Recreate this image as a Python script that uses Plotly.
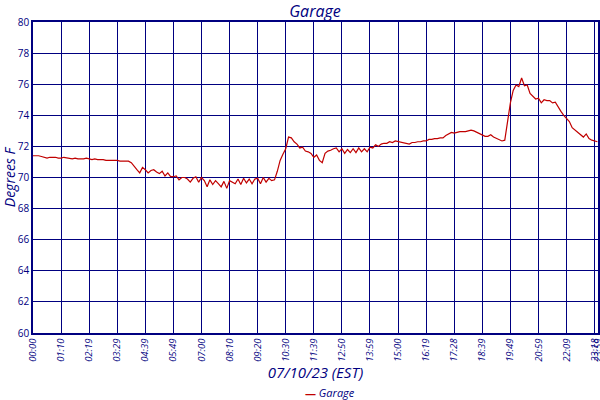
import plotly.graph_objects as go

# Garage temperature readings (deg F), one per logged sample
temps = [
    71.4, 71.4, 71.4, 71.35, 71.3, 71.25, 71.3, 71.3, 71.3, 71.25,
    71.25, 71.3, 71.25, 71.25, 71.2, 71.25, 71.2, 71.2, 71.2, 71.25,
    71.2, 71.15, 71.2, 71.15, 71.15, 71.15, 71.1, 71.1, 71.1, 71.1,
    71.1, 71.05, 71.05, 71.05, 71.05, 70.95, 70.7, 70.5, 70.3, 70.65,
    70.5, 70.3, 70.45, 70.5, 70.35, 70.25, 70.4, 70.1, 70.3, 70.05,
    70.05, 70.1, 69.85, 70.0, 70.0, 69.9, 69.7, 69.95, 70.05, 69.7,
    70.0, 69.8, 69.4, 69.85, 69.55, 69.8, 69.6, 69.4, 69.75, 69.3,
    69.8, 69.7, 69.6, 69.9, 69.55, 69.95, 69.65, 69.9, 69.6, 69.9,
    69.95, 69.6, 70.0, 69.7, 69.95, 69.8, 69.85, 70.4, 71.1, 71.5,
    71.85, 72.6, 72.55, 72.3, 72.15, 71.9, 71.95, 71.7, 71.65, 71.55,
    71.3, 71.45, 71.1, 70.95, 71.55, 71.7, 71.75, 71.85, 71.9, 71.65,
    71.85, 71.55, 71.8, 71.6, 71.85, 71.6, 71.9, 71.65, 71.85, 71.65,
    71.95, 71.9, 72.1, 72.0, 72.15, 72.2, 72.2, 72.3, 72.25, 72.35,
    72.3, 72.25, 72.2, 72.15, 72.15, 72.25, 72.25, 72.3, 72.3, 72.35,
    72.35, 72.45, 72.45, 72.5, 72.5, 72.55, 72.55, 72.7, 72.8, 72.9,
    72.85, 72.9, 72.95, 72.95, 72.95, 73.0, 73.05, 73.0, 72.9, 72.85,
    72.7, 72.65, 72.65, 72.75, 72.6, 72.5, 72.45, 72.35, 72.4, 73.7,
    74.8, 75.6, 75.95, 75.85, 76.4, 75.9, 75.95, 75.4, 75.2, 75.05,
    75.1, 74.8, 75.0, 74.95, 74.95, 74.8, 74.85, 74.5, 74.25, 74.0,
    73.8, 73.6, 73.2, 73.05, 72.9, 72.7, 72.6, 72.8, 72.5, 72.4,
    72.35, 72.3,
]
samples = list(range(len(temps)))

# x tick labels sit every 10 samples, plus the last sample
tick_samples = [0, 10, 20, 30, 40, 50, 60, 70, 80, 90, 100,
                110, 120, 130, 140, 150, 160, 170, 180, 190, 200, 201]
tick_labels = ["00:00", "01:10", "02:19", "03:29", "04:39", "05:49", "07:00",
               "08:10", "09:20", "10:30", "11:39", "12:50", "13:59", "15:00",
               "16:19", "17:28", "18:39", "19:49", "20:59", "22:09", "23:18",
               "23:59"]

NAVY = "#000080"
RED = "#c00000"
FONT = "Open Sans"

fig = go.Figure()
fig.add_trace(go.Scatter(
    x=samples, y=temps, mode="lines", name="Garage",
    line=dict(color=RED, width=1.2),
))

fig.update_layout(
    width=600, height=400,
    margin=dict(l=33, r=2, t=22, b=67),
    paper_bgcolor="white", plot_bgcolor="white",
    font=dict(family=FONT, color=NAVY),
    title=dict(text="<i>Garage</i>", x=0.525, xanchor="center",
               y=0.985, yanchor="top", font=dict(size=16, color=NAVY)),
    showlegend=False,
)
# small legend key under the axis title
fig.add_annotation(
    text="<span style='color:%s'><b>\u2014</b></span> <i>Garage</i>" % RED,
    xref="paper", yref="paper", x=0.525, y=-0.19,
    xanchor="center", yanchor="middle", showarrow=False,
    font=dict(size=11, color=NAVY),
)
fig.update_xaxes(
    range=[0, 201.2],
    tickmode="array", tickvals=tick_samples,
    ticktext=["<i>%s</i>" % t for t in tick_labels],
    tickangle=-90, tickfont=dict(size=9.5, color=NAVY),
    ticklabeloverflow="allow",
    showgrid=True, gridcolor=NAVY, gridwidth=1,
    showline=True, linecolor=NAVY, linewidth=1.5, mirror=True,
    zeroline=False, automargin=False,
    title=dict(text="<i>07/10/23 (EST)</i>", font=dict(size=15, color=NAVY),
               standoff=4),
)
fig.update_yaxes(
    range=[60, 80], dtick=2,
    tickfont=dict(size=10, color=NAVY),
    tickformat="d",
    showgrid=True, gridcolor=NAVY, gridwidth=1,
    showline=True, linecolor=NAVY, linewidth=1.5, mirror=True,
    zeroline=False, automargin=False,
    title=dict(text="<i>Degrees F</i>", font=dict(size=14, color=NAVY),
               standoff=2),
)

fig.write_html("out.html", config={"displayModeBar": False},
               post_script="document.body.style.margin='0';")
